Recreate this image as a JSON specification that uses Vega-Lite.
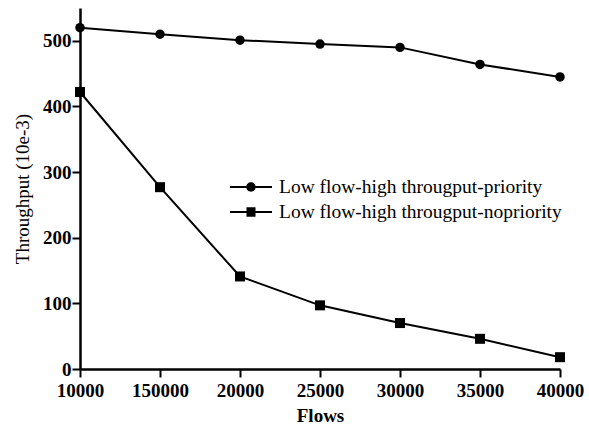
{
  "$schema": "https://vega.github.io/schema/vega-lite/v6.json",
  "width": 480,
  "height": 361,
  "autosize": {"type": "none"},
  "padding": {"left": 80, "top": 8, "right": 29, "bottom": 62},
  "background": "white",
  "config": {
    "view": {"stroke": null},
    "font": "Liberation Serif",
    "axis": {
      "grid": false,
      "domainColor": "black",
      "domainWidth": 2.5,
      "tickColor": "black",
      "tickWidth": 2,
      "tickSize": 8,
      "labelColor": "black",
      "labelFont": "Liberation Serif",
      "labelFontSize": 19,
      "labelFontWeight": "bold",
      "titleColor": "black",
      "titleFont": "Liberation Serif",
      "titleFontSize": 19
    }
  },
  "datasets": {
    "main": [
      {"flows": "10000", "series": "Low flow-high througput-priority", "throughput": 520},
      {"flows": "150000", "series": "Low flow-high througput-priority", "throughput": 510},
      {"flows": "20000", "series": "Low flow-high througput-priority", "throughput": 501},
      {"flows": "25000", "series": "Low flow-high througput-priority", "throughput": 495},
      {"flows": "30000", "series": "Low flow-high througput-priority", "throughput": 490},
      {"flows": "35000", "series": "Low flow-high througput-priority", "throughput": 464},
      {"flows": "40000", "series": "Low flow-high througput-priority", "throughput": 445},
      {"flows": "10000", "series": "Low flow-high througput-nopriority", "throughput": 422},
      {"flows": "150000", "series": "Low flow-high througput-nopriority", "throughput": 277},
      {"flows": "20000", "series": "Low flow-high througput-nopriority", "throughput": 141},
      {"flows": "25000", "series": "Low flow-high througput-nopriority", "throughput": 97},
      {"flows": "30000", "series": "Low flow-high througput-nopriority", "throughput": 70},
      {"flows": "35000", "series": "Low flow-high througput-nopriority", "throughput": 46},
      {"flows": "40000", "series": "Low flow-high througput-nopriority", "throughput": 18}
    ]
  },
  "data": {"name": "main"},
  "encoding": {
    "x": {
      "field": "flows",
      "type": "ordinal",
      "scale": {"type": "point", "padding": 0, "domain": ["10000", "150000", "20000", "25000", "30000", "35000", "40000"]},
      "axis": {"title": "Flows", "labelAngle": 0, "labelPadding": 4, "titlePadding": 6, "titleFontWeight": "bold"}
    },
    "y": {
      "field": "throughput",
      "type": "quantitative",
      "scale": {"domain": [0, 550], "nice": false},
      "axis": {"title": "Throughput (10e-3)", "values": [0, 100, 200, 300, 400, 500], "labelPadding": 1, "titlePadding": 10, "titleFontWeight": "normal"}
    }
  },
  "layer": [
    {
      "mark": {"type": "line", "color": "black", "strokeWidth": 2},
      "encoding": {"detail": {"field": "series"}}
    },
    {
      "transform": [{"filter": "datum.series === 'Low flow-high througput-priority'"}],
      "mark": {"type": "point", "filled": true, "color": "black", "opacity": 1, "shape": "circle", "size": 90}
    },
    {
      "transform": [{"filter": "datum.series === 'Low flow-high througput-nopriority'"}],
      "mark": {"type": "point", "filled": true, "color": "black", "opacity": 1, "shape": "square", "size": 100}
    },
    {
      "mark": {"type": "point", "filled": true, "color": "black", "opacity": 0},
      "encoding": {
        "shape": {
          "field": "series",
          "type": "nominal",
          "scale": {
            "domain": ["Low flow-high througput-priority", "Low flow-high througput-nopriority"],
            "range": [
              "M-2.1,-0.1H2.1V0.1H-2.1Z M-0.47,0A0.47,0.47 0 1,1 0.47,0A0.47,0.47 0 1,1 -0.47,0Z",
              "M-2.1,-0.1H2.1V0.1H-2.1Z M-0.45,-0.48H0.45V0.48H-0.45Z"
            ]
          },
          "legend": {
            "title": null,
            "orient": "none",
            "legendX": 161,
            "legendY": 169,
            "padding": 0,
            "symbolSize": 400,
            "symbolOpacity": 1,
            "symbolFillColor": "black",
            "symbolStrokeWidth": 0,
            "labelOffset": 18,
            "labelFont": "Liberation Serif",
            "labelFontSize": 19.5,
            "labelColor": "black",
            "labelLimit": 400,
            "rowPadding": 5
          }
        },
        "size": {"value": 400}
      }
    }
  ]
}
